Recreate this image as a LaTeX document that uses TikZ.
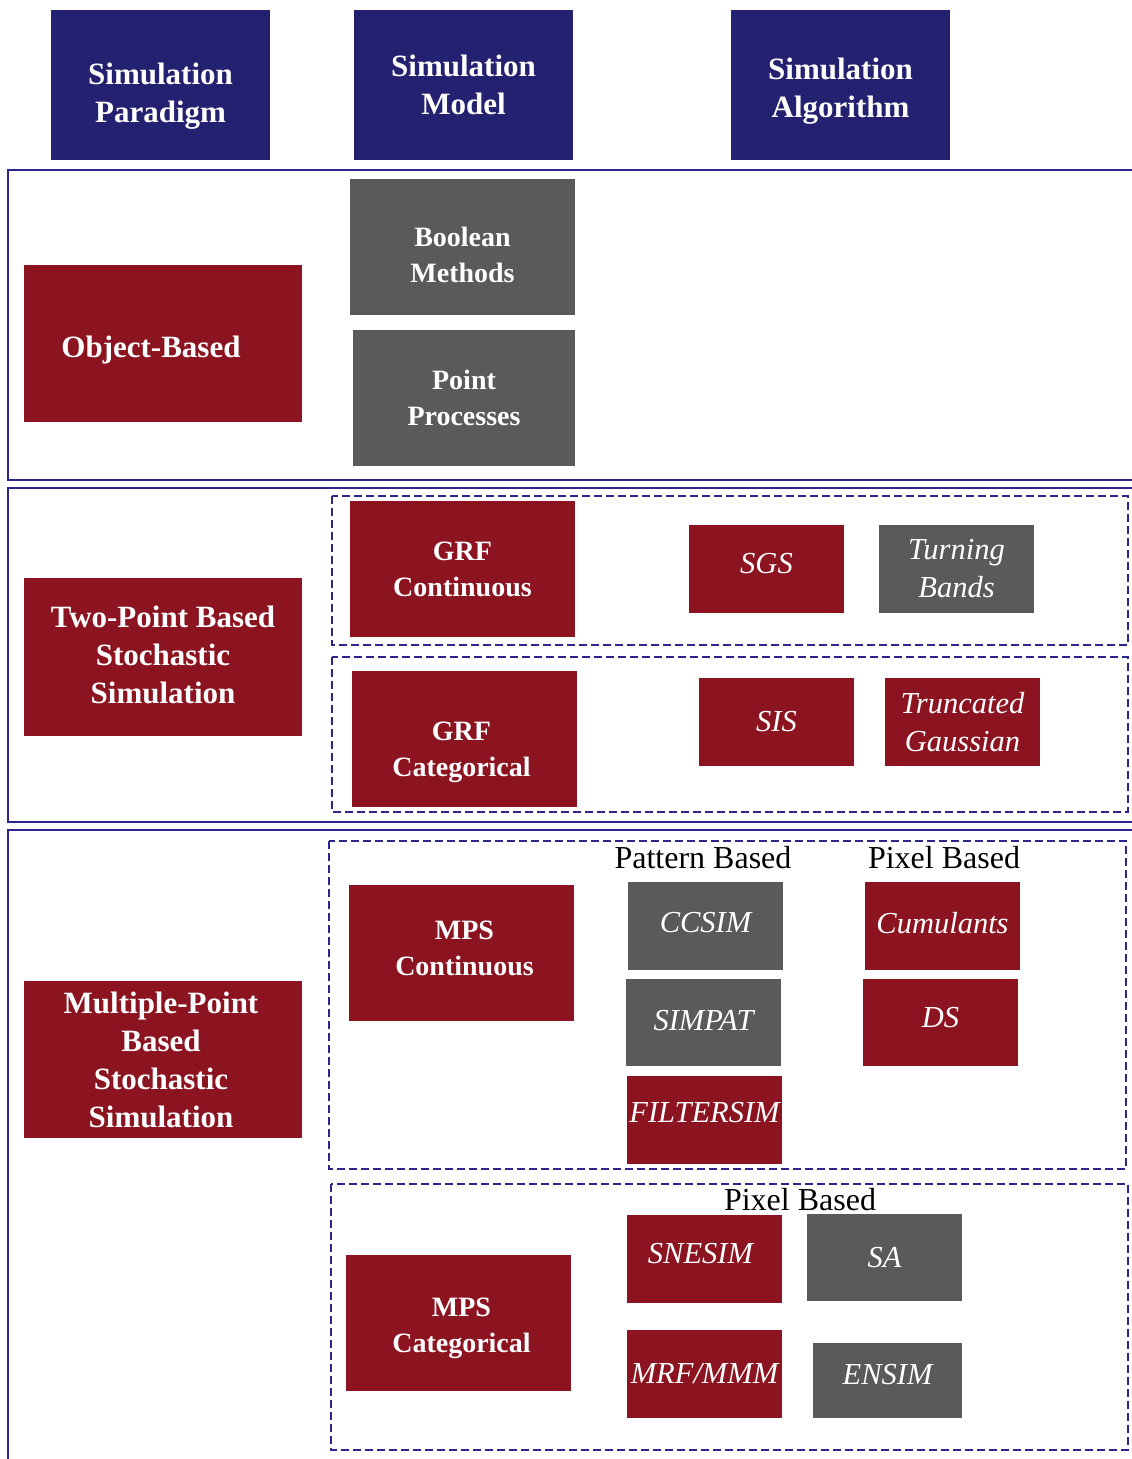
\documentclass[tikz,border=0pt]{standalone}
\usepackage{fontspec}
\setmainfont{Liberation Serif}
\usepackage{tikz}
\usetikzlibrary{positioning}
\definecolor{navy}{RGB}{35,33,112}
\definecolor{linenavy}{RGB}{42,38,138}
\definecolor{darkred}{RGB}{139,20,32}
\definecolor{slate}{RGB}{90,90,90}

\begin{document}
\begin{tikzpicture}[x=1pt,y=-1pt,
  boldlbl/.style={inner sep=0pt,align=center,text=white,font=\fontsize{31}{38}\selectfont\bfseries},
  modellbl/.style={inner sep=0pt,align=center,text=white,font=\fontsize{28}{36}\selectfont\bfseries},
  itlbl/.style={inner sep=0pt,align=center,text=white,font=\fontsize{30.5}{38}\selectfont\itshape},
  header/.style={fill=navy,minimum width=219pt,minimum height=150pt},
  paradigm/.style={fill=darkred,minimum width=278pt,minimum height=157pt},
  model/.style={fill=#1,minimum width=225pt,minimum height=136pt},
  algo/.style={fill=#1,minimum width=155pt,minimum height=88pt},
  frame/.style={linenavy,line width=2.8pt},
  group/.style={linenavy,line width=2.6pt,dash pattern=on 8pt off 4pt},
  caption/.style={inner sep=0pt,font=\fontsize{32}{38}\selectfont}]
  \useasboundingbox (0,0) rectangle (1132,1459);
  \clip (0,0) rectangle (1132,1459);

  % column headers
  \node[header,label={[boldlbl,yshift=-11pt]center:{Simulation\\Paradigm}}] (paradigm) at (160.5,85) {};
  \node[header,label={[boldlbl]center:{Simulation\\Model}}] (model) at (463.5,85) {};
  \node[header,label={[boldlbl,yshift=-6pt]center:{Simulation\\Algorithm}}] (algorithm) at (840.5,85) {};

  % paradigm frames
  \draw[frame] (8,170) rectangle (1160,480);
  \draw[frame] (8,488) rectangle (1160,822);
  \draw[frame] (8,830) rectangle (1160,1490);

  % object-based
  \node[paradigm,label={[boldlbl,xshift=-12pt,yshift=-7pt]center:Object-Based}] (objbased) at (163,343.5) {};
  \node[model=slate,label={[modellbl,yshift=-8pt]center:{Boolean\\Methods}}] (boolean) at (462.5,246.5) {};
  \node[model=slate,minimum width=222pt,label={[modellbl]center:{Point\\Processes}}] (point) at (464,398) {};

  % two-point
  \node[paradigm,minimum height=158pt,label={[boldlbl,yshift=2pt]center:{Two-Point Based\\Stochastic\\Simulation}}] (twopoint) at (163,657) {};
  \draw[group] (332,496) rectangle (1128,645);
  \node[model=darkred,label={[modellbl]center:{GRF\\Continuous}}] (grfcont) at (462.5,569) {};
  \node[algo=darkred,label={[itlbl,yshift=5pt]center:SGS}] (sgs) at (766.5,569) {};
  \node[algo=slate,label={[itlbl]center:{Turning\\Bands}}] (turning) at (956.5,569) {};
  \draw[group] (332,657) rectangle (1128,812);
  \node[model=darkred,label={[modellbl,yshift=-13pt,xshift=-3pt]center:{GRF\\Categorical}}] (grfcat) at (464.5,739) {};
  \node[algo=darkred,label={[itlbl]center:SIS}] (sis) at (776.5,722) {};
  \node[algo=darkred,label={[itlbl]center:{Truncated\\Gaussian}}] (truncated) at (962.5,722) {};

  % multiple-point
  \node[paradigm,label={[boldlbl,xshift=-2pt]center:{Multiple-Point\\Based\\Stochastic\\Simulation}}] (multipoint) at (163,1059.5) {};
  \draw[group] (329,841) rectangle (1126,1169);
  \node[caption] (pattern) at (703,858) {Pattern Based};
  \node[caption] (pixel) at (944,858) {Pixel Based};
  \node[model=darkred,label={[modellbl,yshift=5pt,xshift=3pt]center:{MPS\\Continuous}}] (mpscont) at (461.5,953) {};
  \node[algo=slate,label={[itlbl,yshift=3pt]center:CCSIM}] (ccsim) at (705.5,926) {};
  \node[algo=slate,minimum height=87pt,label={[itlbl,yshift=2pt]center:SIMPAT}] (simpat) at (703.5,1022.5) {};
  \node[algo=darkred,label={[itlbl,yshift=7pt]center:FILTERSIM}] (filtersim) at (704.5,1120) {};
  \node[algo=darkred,label={[itlbl,yshift=3pt]center:Cumulants}] (cumulants) at (942.5,926) {};
  \node[algo=darkred,minimum height=87pt,label={[itlbl,yshift=5pt]center:DS}] (ds) at (940.5,1022.5) {};

  \draw[group] (331,1184) rectangle (1128,1450);
  \node[caption] (pixelcat) at (800,1200) {Pixel Based};
  \node[model=darkred,label={[modellbl,yshift=-5pt,xshift=3pt]center:{MPS\\Categorical}}] (mpscat) at (458.5,1323) {};
  \node[algo=darkred,label={[itlbl,yshift=5pt,xshift=-4pt]center:SNESIM}] (snesim) at (704.5,1259) {};
  \node[algo=slate,minimum height=87pt,label={[itlbl]center:SA}] (sa) at (884.5,1257.5) {};
  \node[algo=darkred,label={[itlbl]center:MRF/MMM}] (mrf) at (704.5,1374) {};
  \node[algo=slate,minimum width=149pt,minimum height=75pt,label={[itlbl,yshift=6pt]center:ENSIM}] (ensim) at (887.5,1380.5) {};
\end{tikzpicture}
\end{document}
